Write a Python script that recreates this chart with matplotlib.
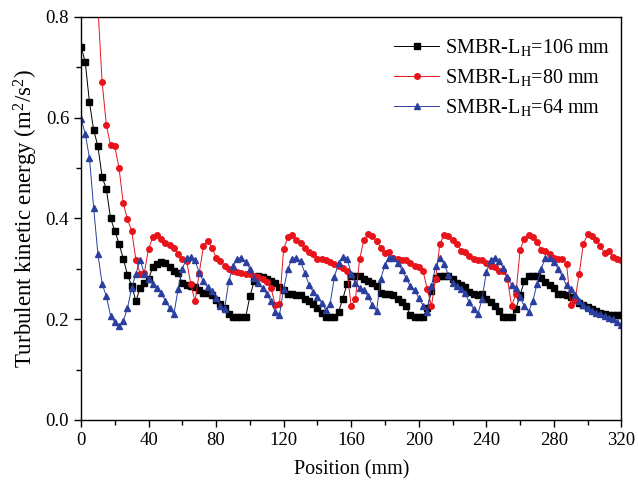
import numpy as np
import matplotlib.pyplot as plt

plt.rcParams['font.family'] = 'Liberation Serif'
plt.rcParams['mathtext.fontset'] = 'custom'
plt.rcParams['mathtext.rm'] = 'Liberation Serif'
plt.rcParams['mathtext.it'] = 'Liberation Serif:italic'

# positions along the reactor, every 2.5 mm
position = np.arange(0, 320.1, 2.5)

# SMBR-LH=106 mm (one row = 20 mm)
k_106 = [0.741, 0.710, 0.630, 0.575, 0.543, 0.482, 0.458, 0.400,
         0.375, 0.350, 0.320, 0.288, 0.266, 0.236, 0.262, 0.272,
         0.280, 0.303, 0.310, 0.314, 0.311, 0.303, 0.296, 0.291,
         0.272, 0.267, 0.265, 0.263, 0.258, 0.252, 0.252, 0.248,
         0.238, 0.230, 0.222, 0.210, 0.204, 0.204, 0.204, 0.204,
         0.245, 0.275, 0.285, 0.283, 0.280, 0.275, 0.272, 0.264,
         0.258, 0.250, 0.249, 0.248, 0.247, 0.240, 0.236, 0.230,
         0.222, 0.212, 0.204, 0.204, 0.204, 0.215, 0.240, 0.270,
         0.286, 0.286, 0.285, 0.280, 0.276, 0.271, 0.266, 0.252,
         0.249, 0.249, 0.248, 0.240, 0.234, 0.226, 0.208, 0.204,
         0.204, 0.204, 0.222, 0.255, 0.282, 0.286, 0.286, 0.286,
         0.279, 0.272, 0.268, 0.263, 0.253, 0.249, 0.248, 0.249,
         0.240, 0.234, 0.227, 0.217, 0.204, 0.204, 0.204, 0.220,
         0.248, 0.275, 0.286, 0.286, 0.286, 0.281, 0.273, 0.268,
         0.262, 0.250, 0.249, 0.247, 0.243, 0.238, 0.232, 0.228,
         0.224, 0.220, 0.216, 0.212, 0.210, 0.209, 0.209, 0.209,
         0.209]

# SMBR-LH=80 mm (first points lie above the 0.8 limit)
k_80 = [1.300, 1.100, 0.950, 0.880, 0.820, 0.670, 0.585, 0.545,
        0.543, 0.500, 0.430, 0.398, 0.375, 0.318, 0.290, 0.292,
        0.340, 0.362, 0.367, 0.360, 0.352, 0.348, 0.342, 0.330,
        0.320, 0.316, 0.270, 0.235, 0.292, 0.345, 0.356, 0.342,
        0.322, 0.316, 0.306, 0.300, 0.295, 0.294, 0.292, 0.290,
        0.289, 0.286, 0.283, 0.280, 0.274, 0.262, 0.228, 0.230,
        0.340, 0.362, 0.367, 0.358, 0.352, 0.342, 0.333, 0.330,
        0.320, 0.319, 0.318, 0.314, 0.309, 0.305, 0.301, 0.296,
        0.226, 0.240, 0.320, 0.357, 0.368, 0.364, 0.356, 0.342,
        0.332, 0.334, 0.321, 0.319, 0.318, 0.317, 0.311, 0.306,
        0.303, 0.296, 0.260, 0.226, 0.280, 0.350, 0.367, 0.365,
        0.358, 0.350, 0.336, 0.334, 0.325, 0.320, 0.318, 0.317,
        0.311, 0.306, 0.304, 0.296, 0.296, 0.280, 0.226, 0.250,
        0.337, 0.360, 0.367, 0.362, 0.354, 0.338, 0.336, 0.330,
        0.321, 0.319, 0.319, 0.310, 0.228, 0.238, 0.290, 0.350,
        0.368, 0.365, 0.357, 0.345, 0.331, 0.335, 0.324, 0.320,
        0.318]

# SMBR-LH=64 mm
k_64 = [0.598, 0.568, 0.520, 0.420, 0.329, 0.270, 0.245, 0.207,
        0.194, 0.186, 0.196, 0.222, 0.262, 0.290, 0.318, 0.290,
        0.280, 0.270, 0.262, 0.252, 0.236, 0.222, 0.210, 0.260,
        0.300, 0.321, 0.323, 0.317, 0.292, 0.275, 0.263, 0.256,
        0.242, 0.226, 0.220, 0.275, 0.305, 0.320, 0.322, 0.314,
        0.300, 0.282, 0.271, 0.262, 0.250, 0.235, 0.215, 0.208,
        0.260, 0.300, 0.320, 0.322, 0.315, 0.292, 0.268, 0.254,
        0.243, 0.232, 0.218, 0.230, 0.283, 0.312, 0.324, 0.320,
        0.290, 0.272, 0.261, 0.257, 0.245, 0.228, 0.216, 0.280,
        0.308, 0.322, 0.321, 0.312, 0.298, 0.282, 0.265, 0.258,
        0.242, 0.227, 0.215, 0.265, 0.305, 0.321, 0.310, 0.288,
        0.272, 0.266, 0.259, 0.251, 0.233, 0.220, 0.210, 0.240,
        0.294, 0.317, 0.322, 0.315, 0.302, 0.283, 0.268, 0.262,
        0.243, 0.226, 0.215, 0.235, 0.270, 0.300, 0.322, 0.321,
        0.314, 0.300, 0.285, 0.267, 0.259, 0.247, 0.236, 0.228,
        0.222, 0.217, 0.213, 0.210, 0.206, 0.203, 0.200, 0.195,
        0.188]

labels = ['SMBR-L$_\\mathrm{H}$=106 mm', 'SMBR-L$_\\mathrm{H}$=80 mm',
          'SMBR-L$_\\mathrm{H}$=64 mm']

fig = plt.figure(figsize=(6.38, 4.94), dpi=100)
ax = fig.add_axes([0.127, 0.150, 0.847, 0.816])

ax.plot(position, k_106, color='black', marker='s', ms=3.8, lw=0.7, label=labels[0])
ax.plot(position, k_80, color='#e8141c', marker='o', ms=4.0, lw=0.7, label=labels[1])
ax.plot(position, k_64, color='#2b3f9e', marker='^', ms=4.3, lw=0.7, label=labels[2])

ax.set_xlim(0, 320)
ax.set_ylim(0, 0.8)
ax.set_xticks(np.arange(0, 321, 40))
ax.set_xticks(np.arange(20, 320, 40), minor=True)
ax.set_yticks(np.arange(0, 0.81, 0.2))
ax.set_yticks(np.arange(0.1, 0.8, 0.2), minor=True)
ax.set_yticklabels(['0.0', '0.2', '0.4', '0.6', '0.8'])
ax.tick_params(which='both', direction='out', labelsize=13.5, length=5, width=1,
               top=False, right=False)
ax.tick_params(which='minor', length=3.5)
for s in ax.spines.values():
    s.set_linewidth(1)

ax.set_xlabel('Position (mm)', fontsize=14.5, labelpad=8)
ax.set_ylabel('Turbulent kinetic energy (m$^2$/s$^2$)', fontsize=16.5, labelpad=4)

ax.legend(loc='upper right', frameon=False, fontsize=14.5, handlelength=2.2,
          borderaxespad=0.3, labelspacing=0.45, handletextpad=0.3,
          bbox_to_anchor=(1.005, 0.985))

fig.savefig('out.png', dpi=100)
